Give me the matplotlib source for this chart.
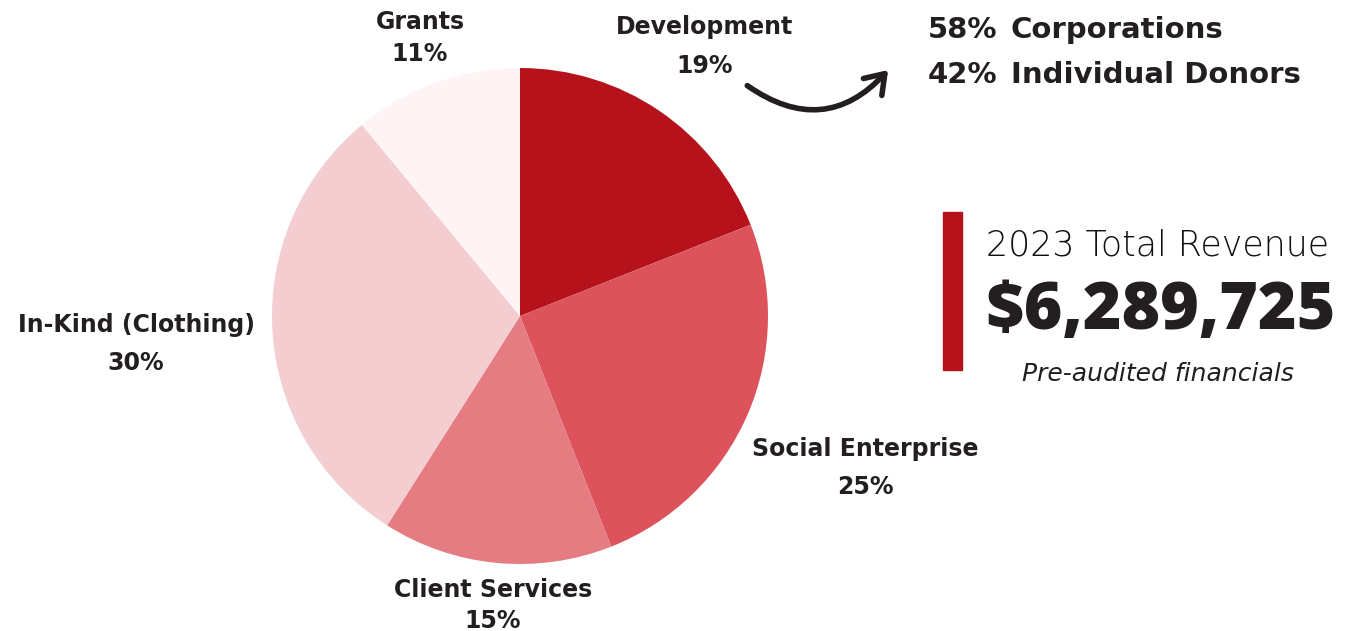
import matplotlib.pyplot as plt
from matplotlib.patches import FancyArrowPatch, Rectangle

# data
categories = ['Development', 'Social Enterprise', 'Client Services', 'In-Kind (Clothing)', 'Grants']
shares = [19, 25, 15, 30, 11]
colors = ['#B5121B', '#DC535C', '#E57C82', '#F4CDD0', '#FEF4F5']
dev_split = [58, 42]
dev_split_labels = ['Corporations', 'Individual Donors']
total_revenue = 6289725
year = 2023

W, H = 1346, 631
txt = '#231F20'
plt.rcParams['font.family'] = ['DejaVu Sans']

fig = plt.figure(figsize=(W / 100, H / 100), dpi=100)

# pie axes: center (520,316), radius 248 px
cx, cy, r = 520, 316, 248
ax = fig.add_axes([(cx - r) / W, (H - cy - r) / H, 2 * r / W, 2 * r / H])
ax.pie(shares, colors=colors, startangle=90, counterclock=False, radius=1,
       wedgeprops=dict(linewidth=0))
ax.set_xlim(-1, 1)
ax.set_ylim(-1, 1)
ax.set_aspect('equal')
ax.axis('off')


def px(x, y):
    return x / W, 1 - y / H


# label centres in pixels (name line, pct line)
label_pos = {
    'Development': (705, 27, 66),
    'Social Enterprise': (865, 449, 487),
    'Client Services': (493, 590, 621),
    'In-Kind (Clothing)': (136, 325, 363),
    'Grants': (420, 22, 54),
}
for name, val in zip(categories, shares):
    x, y1, y2 = label_pos[name]
    fig.text(*px(x, y1), name, ha='center', va='center', fontsize=17,
             fontweight='bold', color=txt)
    fig.text(*px(x, y2), f'{val}%', ha='center', va='center', fontsize=17,
             fontweight='bold', color=txt)

# development breakdown
for i, (v, lab) in enumerate(zip(dev_split, dev_split_labels)):
    y = 30 + i * 45
    fig.text(*px(928, y), f'{v}%', ha='left', va='center', fontsize=21,
             fontweight='bold', color=txt)
    fig.text(*px(1011, y), lab, ha='left', va='center', fontsize=21,
             fontweight='bold', color=txt)

arrow = FancyArrowPatch(px(745, 84), px(890, 68), transform=fig.transFigure,
                        connectionstyle='arc3,rad=0.45',
                        arrowstyle='->,head_length=13,head_width=9',
                        lw=4, color=txt, capstyle='round', joinstyle='round')
fig.patches.append(arrow)

# total revenue block
fig.patches.append(Rectangle(px(943, 370), 19 / W, 158 / H, transform=fig.transFigure,
                             color='#B5121B'))
fig.text(*px(986, 245), f'{year} Total Revenue', ha='left', va='center', fontsize=25,
         fontweight='light', color='#111111')
fig.text(*px(985, 312), f'${total_revenue:,}', ha='left', va='center', fontsize=47.5,
         fontweight='heavy', color=txt, family=['Open Sans', 'DejaVu Sans'])
fig.text(*px(1158, 374), 'Pre-audited financials', ha='center', va='center', fontsize=18,
         fontstyle='italic', color=txt)

fig.savefig('out.png', dpi=100)
